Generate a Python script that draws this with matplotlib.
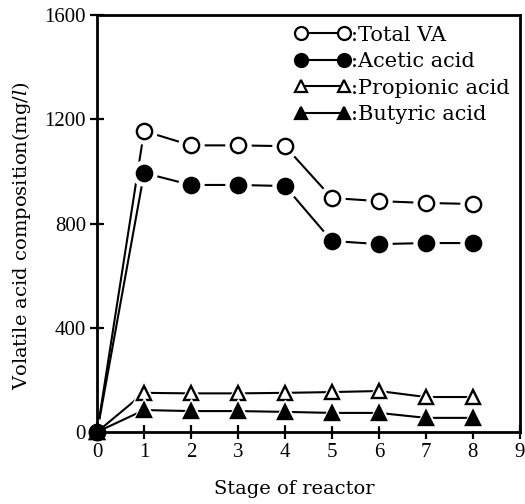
import matplotlib
matplotlib.use("Agg")
import matplotlib.pyplot as plt

plt.rcParams['font.family'] = ['Liberation Serif', 'DejaVu Serif']
plt.rcParams['mathtext.fontset'] = 'dejavuserif'

stages = [0, 1, 2, 3, 4, 5, 6, 7, 8]
total_va = [0, 1155, 1100, 1100, 1097, 898, 886, 879, 875]
acetic = [0, 994, 948, 948, 944, 733, 721, 725, 725]
propionic = [0, 150, 148, 148, 150, 153, 157, 134, 134]
butyric = [0, 84, 80, 80, 77, 73, 73, 54, 54]

fig = plt.figure(figsize=(5.25, 5.04), dpi=100)
ax = fig.add_axes([0.185, 0.143, 0.805, 0.827])

series = [
    (total_va, 'o', 'white', 11, ':Total VA'),
    (acetic, 'o', 'black', 11, ':Acetic acid'),
    (propionic, '^', 'white', 10.5, ':Propionic acid'),
    (butyric, '^', 'black', 10.5, ':Butyric acid'),
]
z = 2
for vals, mk, fc, ms, lab in series:
    extra = 10 if fc == 'black' else 0
    ax.plot(stages, vals, color='black', lw=1.5, zorder=z)
    ax.plot(stages, vals, ls='none', marker=mk, ms=ms + 7, mfc='white', mec='white', zorder=z + 0.1)
    ax.plot(stages, vals, ls='none', marker=mk, ms=ms, mfc=fc, mec='black', mew=1.7,
            zorder=z + 0.2 + extra, clip_on=False)
    ax.plot([], [], color='black', lw=1.5, marker=mk, ms=ms * 0.85, mfc=fc, mec='black', mew=1.6, label=lab)
    z += 1

ax.set_xlim(0, 9)
ax.set_ylim(0, 1600)
ax.set_xticks(range(0, 10))
ax.set_yticks([0, 400, 800, 1200, 1600])
ax.tick_params(direction='inout', length=10, width=1.6, labelsize=15, colors='black', pad=3)
for s in ax.spines.values():
    s.set_linewidth(2.0)
    s.set_zorder(20)

ax.set_xlabel('Stage of reactor', fontsize=14, family=['DejaVu Serif'])
ax.set_ylabel('Volatile acid composition(mg/$\\mathit{l}$)', fontsize=14, family=['DejaVu Serif'])
ax.xaxis.set_label_coords(0.466, -0.115)
ax.yaxis.set_label_coords(-0.152, 0.472)

leg = ax.legend(loc='upper right', frameon=False, numpoints=2, handlelength=2.7,
                handletextpad=0.0, labelspacing=0.36, borderaxespad=0.1,
                prop={'family': 'DejaVu Serif', 'size': 15})

fig.savefig('out.png', dpi=100)
